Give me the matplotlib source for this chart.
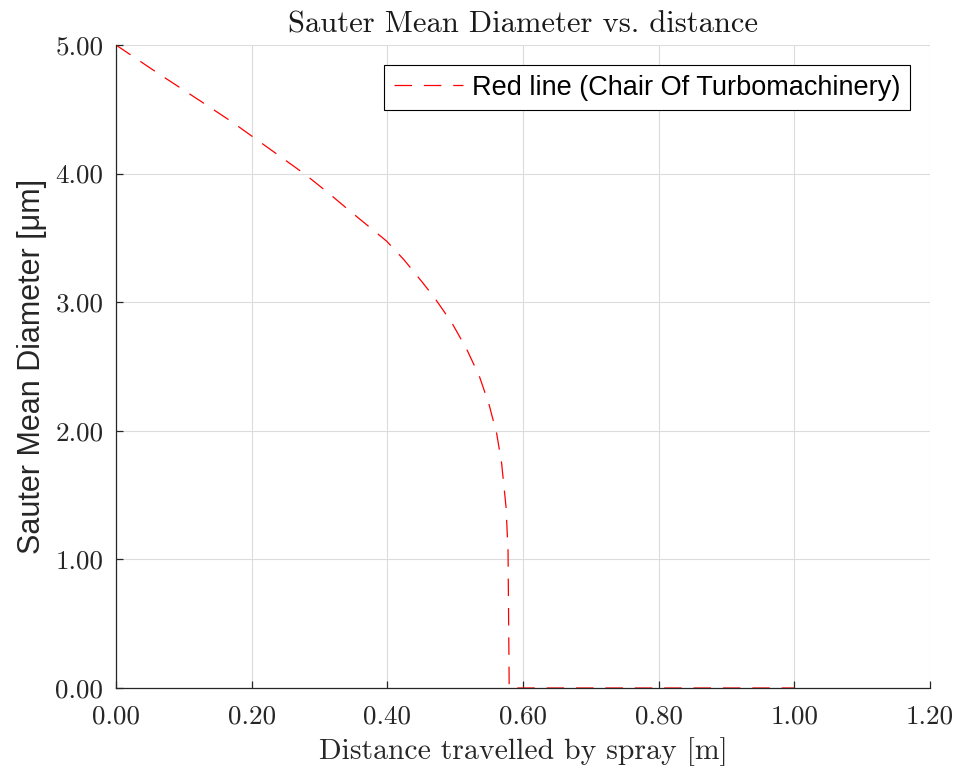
import numpy as np
import matplotlib
matplotlib.use("Agg")
import matplotlib.pyplot as plt
from matplotlib.ticker import FormatStrFormatter

# spray distance [m] and Sauter mean diameter [um]
dist = [0.0, 0.06, 0.1336, 0.1705, 0.2049, 0.2786, 0.313, 0.347, 0.399,
        0.4246, 0.4529, 0.4702, 0.4948, 0.5169, 0.5356, 0.5499, 0.5612,
        0.5685, 0.575, 0.578, 0.5797, 0.60, 0.80, 1.00]
smd = [5.0, 4.787, 4.533, 4.404, 4.274, 3.995, 3.85, 3.70, 3.475,
       3.33, 3.147, 3.03, 2.843, 2.636, 2.426, 2.206, 1.98,
       1.75, 1.41, 1.07, 0.0, 0.0, 0.0, 0.0]

xticks = [0.0, 0.2, 0.4, 0.6, 0.8, 1.0, 1.2]
yticks = [0.0, 1.0, 2.0, 3.0, 4.0, 5.0]

serif = "cmr10"
sans = "Liberation Sans"
plt.rcParams["axes.formatter.use_mathtext"] = True

fig = plt.figure(figsize=(9.6, 7.72), dpi=100)
ax = fig.add_axes([0.1208, 0.1088, 0.8479, 0.8329])

ax.plot(dist, smd, color="red", lw=0.9, linestyle=(0, (14, 9.5)),
        label="Red line (Chair Of Turbomachinery)")

ax.set_xlim(0, 1.2)
ax.set_ylim(0, 5)
ax.set_xticks(xticks)
ax.set_yticks(yticks)
ax.xaxis.set_major_formatter(FormatStrFormatter("%.2f"))
ax.yaxis.set_major_formatter(FormatStrFormatter("%.2f"))

ax.grid(True, color="#dcdcdc", lw=0.8)
ax.set_axisbelow(True)
for s in ["top", "right"]:
    ax.spines[s].set_visible(False)
for s in ["left", "bottom"]:
    ax.spines[s].set_color("#262626")
    ax.spines[s].set_linewidth(0.9)
ax.tick_params(direction="in", length=5, width=0.9, color="#262626",
               labelsize=19.5, labelcolor="#262626")
for lab in ax.get_xticklabels() + ax.get_yticklabels():
    lab.set_family(serif)
ax.tick_params(axis="x", pad=12)
ax.tick_params(axis="y", pad=9)

ax.set_title("Sauter Mean Diameter vs. distance", family=serif,
             fontsize=22, color="#1a1a1a", pad=9)
ax.set_xlabel("Distance travelled by spray [m]", family=serif,
              fontsize=21.4, color="#262626", labelpad=6)
ax.set_ylabel("Sauter Mean Diameter [μm]", family=sans,
              fontsize=22, color="#262626", labelpad=6)

leg = ax.legend(loc="upper right", bbox_to_anchor=(0.9754, 0.969),
                prop={"family": sans, "size": 19.5}, fancybox=False,
                framealpha=1, edgecolor="black", handlelength=2.55,
                borderaxespad=0, borderpad=0.36, handletextpad=0.33)
leg.get_frame().set_linewidth(0.8)

fig.savefig("out.png", dpi=100)
